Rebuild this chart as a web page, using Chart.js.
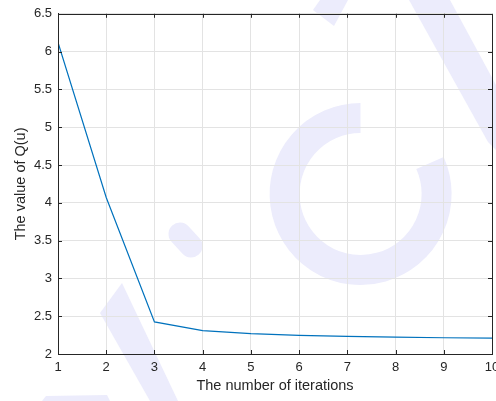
<!DOCTYPE html>
<html>
<head>
<meta charset="utf-8">
<script src="https://cdn.jsdelivr.net/npm/chart.js@4"></script>
<style>
  html, body { margin: 0; padding: 0; background: #fff; overflow: hidden; }
  #wrap { position: relative; width: 496px; height: 401px; overflow: hidden; }
  #mark { position: absolute; left: 0; top: 0; }
  #myChart { position: absolute; left: 0; top: 0; }
</style>
</head>
<body>
<div id="wrap">
  <!-- faint watermark behind the plot -->
  <svg id="mark" width="496" height="401">
    <g fill="rgb(236,236,252)" stroke="none">
      <polygon points="313,10 320,0 348,0 334,26"/>
      <polygon points="409,0 450,0 496,85 496,150 488,142"/>
      <polygon points="100,313 122,283 178,401 150,401"/>
      <polygon points="42,401 110,401 107,395 46,396"/>
    </g>
    <path d="M 430 163 A 76 76 0 1 1 360.5 118" fill="none" stroke="rgb(236,236,252)" stroke-width="30"/>
    <line x1="180" y1="234" x2="191" y2="246" stroke="rgb(236,236,252)" stroke-width="23" stroke-linecap="round"/>
  </svg>
  <canvas id="myChart" width="520" height="401"></canvas>
</div>
<script>
const iterations = [1, 2, 3, 4, 5, 6, 7, 8, 9, 10];
const qValues = [6.12, 4.07, 2.425, 2.31, 2.27, 2.246, 2.233, 2.224, 2.215, 2.21];

const AXIS_COLOR = "#262626";
const GRID_COLOR = "#e3e3e3";
const FONT = "'Liberation Sans', Arial, Helvetica, sans-serif";

// MATLAB style box with inward tick marks
const boxPlugin = {
  id: "boxTicks",
  afterDraw(chart) {
    const ctx = chart.ctx;
    const area = chart.chartArea;
    const xs = chart.scales.x;
    const ys = chart.scales.y;
    ctx.save();
    ctx.strokeStyle = AXIS_COLOR;
    ctx.lineWidth = 1;
    ctx.beginPath();
    xs.ticks.forEach((t) => {
      const px = Math.round(xs.getPixelForValue(t.value)) + 0.5;
      ctx.moveTo(px, area.bottom);
      ctx.lineTo(px, area.bottom - 4);
      ctx.moveTo(px, area.top);
      ctx.lineTo(px, area.top + 4);
    });
    ys.ticks.forEach((t) => {
      const py = Math.round(ys.getPixelForValue(t.value)) + 0.5;
      ctx.moveTo(area.left, py);
      ctx.lineTo(area.left + 4, py);
      ctx.moveTo(area.right, py);
      ctx.lineTo(area.right - 4, py);
    });
    ctx.stroke();
    ctx.strokeRect(Math.round(area.left) + 0.5, Math.round(area.top) + 0.5,
      Math.round(area.right - area.left), Math.round(area.bottom - area.top));
    ctx.restore();
  }
};

const canvas = document.getElementById("myChart");

const data = {
  datasets: [{
    data: iterations.map((x, i) => ({ x: x, y: qValues[i] })),
    borderColor: "#0072BD",
    borderWidth: 1.2,
    pointRadius: 0,
    fill: false,
    tension: 0
  }]
};

const config = {
  type: "line",
  data: data,
  options: {
    responsive: false,
    animation: false,
    layout: {
      padding: { left: 0, right: 28, top: 12, bottom: 0 }
    },
    plugins: {
      legend: { display: false },
      tooltip: { enabled: false }
    },
    scales: {
      x: {
        type: "linear",
        min: 1,
        max: 10,
        afterFit: (s) => { s.height = 47; },
        ticks: {
          stepSize: 1,
          padding: 6,
          color: AXIS_COLOR,
          font: { family: FONT, size: 13 },
          maxRotation: 0
        },
        grid: { color: GRID_COLOR, drawTicks: false },
        border: { color: AXIS_COLOR },
        title: {
          display: true,
          text: "The number of iterations",
          color: AXIS_COLOR,
          font: { family: FONT, size: 14.5 },
          padding: { top: 0, bottom: 6 }
        }
      },
      y: {
        min: 2,
        max: 6.5,
        afterFit: (s) => { s.width = 58; },
        ticks: {
          stepSize: 0.5,
          padding: 6,
          color: AXIS_COLOR,
          font: { family: FONT, size: 13 },
          callback: (v) => String(Number(v.toFixed(1)))
        },
        grid: { color: GRID_COLOR, drawTicks: false },
        border: { color: AXIS_COLOR },
        title: {
          display: true,
          text: "The value of Q(u)",
          color: AXIS_COLOR,
          font: { family: FONT, size: 14.5 },
          padding: { top: 12, bottom: 0 }
        }
      }
    }
  },
  plugins: [boxPlugin]
};

const myChart = new Chart(canvas, config);
</script>
</body>
</html>
